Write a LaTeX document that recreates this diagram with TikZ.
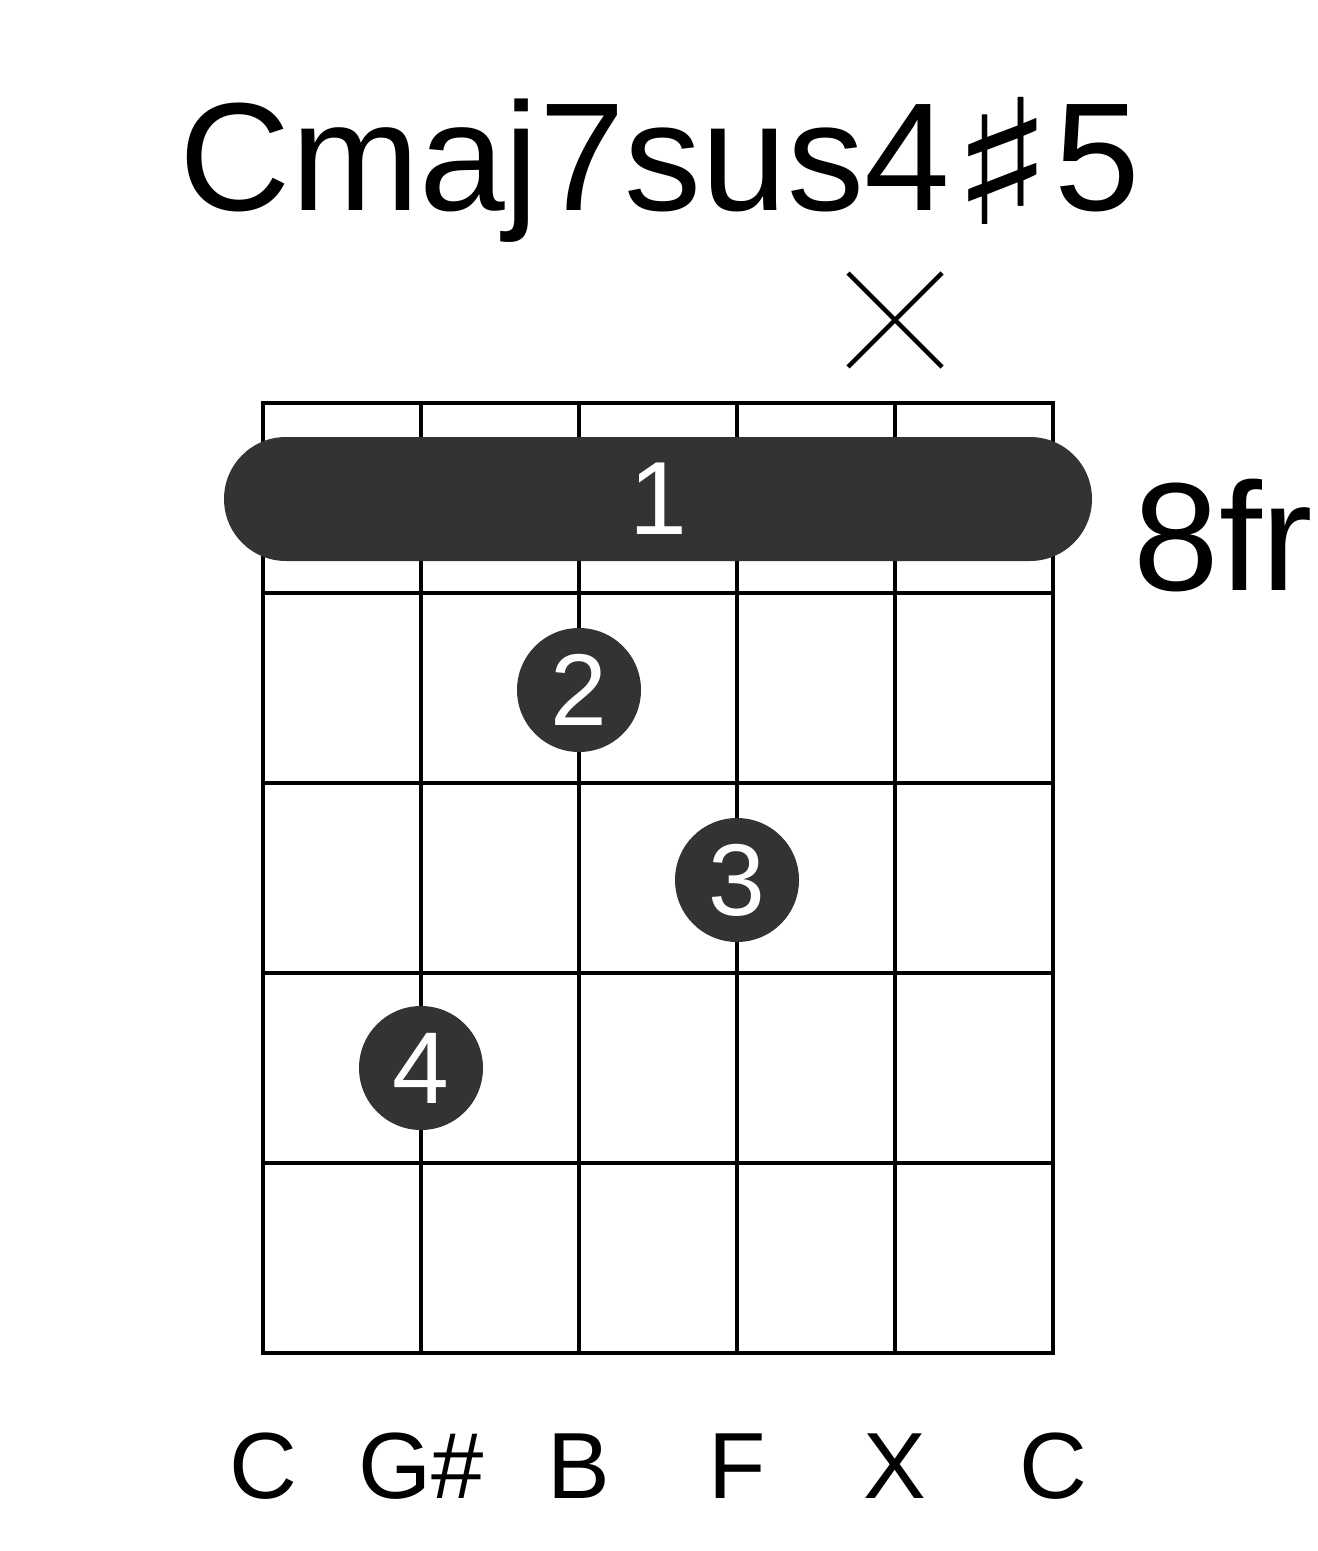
\documentclass[tikz,border=0pt]{standalone}
\usepackage{fontspec}
\usepackage{graphicx}
\setmainfont{Liberation Sans}
\newfontfamily\symfont{DejaVu Sans}
\usetikzlibrary{shapes.misc}
\definecolor{dotgray}{HTML}{333333}
\newcommand{\bigsharp}{\raisebox{-7pt}{\scalebox{1.4}[1.13]{\symfont ♯}}}
\tikzset{
  fretline/.style={line width=2pt},
  fingerdot/.style={circle, fill=dotgray, text=white, inner sep=0pt,
    minimum size=62pt, font=\fontsize{51}{60}\selectfont},
  barrebox/.style={rounded rectangle, fill=dotgray, text=white, inner sep=0pt,
    minimum width=434pt, minimum height=62pt, font=\fontsize{52}{60}\selectfont},
  notelabel/.style={anchor=base, inner sep=0pt, font=\fontsize{47}{56}\selectfont}
}
\begin{document}
\begin{tikzpicture}[x=0.5pt,y=-0.5pt]
\useasboundingbox (0,0) rectangle (1317,1551);
% title
\node[anchor=base, inner sep=0pt, font=\fontsize{77}{92}\selectfont]
  (title) at (660,211) {Cmaj7sus4\bigsharp 5};
% strings and frets
\foreach \s in {0,...,5}
  \draw[fretline] (263+158*\s,403) -- (263+158*\s,1353);
\foreach \f in {0,...,5}
  \draw[fretline] (261,403+190*\f) -- (1055,403+190*\f);
% muted string
\coordinate (mute) at (895,320);
\draw[line width=2.2pt] (mute) ++(-47,-47) -- ++(94,94);
\draw[line width=2.2pt] (mute) ++(47,-47) -- ++(-94,94);
% barre and fingers
\node[barrebox] (barre) at (658,499) {1};
\node[fingerdot] (two) at (579,690) {2};
\node[fingerdot] (three) at (737,880) {3};
\node[fingerdot] (four) at (421,1068) {4};
% fret number
\node[anchor=base west, inner sep=0pt, font=\fontsize{77}{90}\selectfont]
  (fret) at (1133,590) {8fr};
% note names
\foreach \n/\s in {C/0, G\#/1, B/2, F/3, X/4, C/5}
  \node[notelabel] (note\s) at (263+158*\s,1498) {\n};
\end{tikzpicture}
\end{document}
